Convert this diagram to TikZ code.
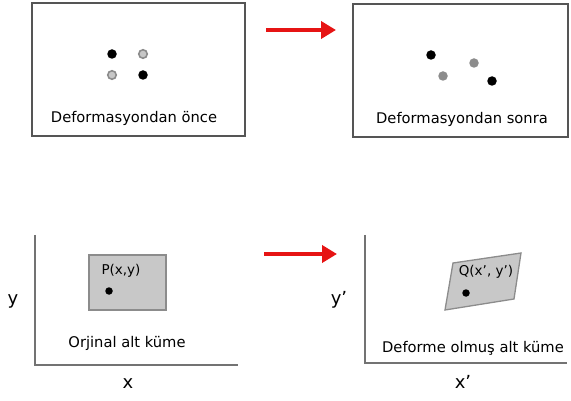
\documentclass[tikz,border=0pt]{standalone}
\usepackage{fontspec}
\setmainfont{DejaVu Sans}
\usetikzlibrary{arrows.meta}
\definecolor{arrowred}{RGB}{230,20,20}
\definecolor{framegray}{RGB}{85,85,85}
\definecolor{axisgray}{RGB}{115,115,115}
\definecolor{subfill}{RGB}{200,200,200}
\definecolor{subedge}{RGB}{140,140,140}
\begin{document}
\begin{tikzpicture}[x=1pt,y=-1pt,
  frame/.style={draw=framegray, line width=1.7pt, inner sep=0pt,
    minimum width=213pt, minimum height=133pt},
  axis/.style={draw=axisgray, line width=1.9pt},
  caption/.style={font=\fontsize{14.7}{17}\selectfont, inner sep=0pt},
  axislabel/.style={font=\fontsize{18}{20}\selectfont, inner sep=0pt},
  pointlabel/.style={font=\fontsize{13.5}{15}\selectfont, inner sep=0pt},
  blackdot/.style={circle, fill=black, inner sep=0pt, minimum size=9.5pt},
  ringdot/.style={circle, fill=black!22, draw=black!45, line width=1.6pt, inner sep=0pt, minimum size=8.5pt},
  greydot/.style={circle, fill=black!45, inner sep=0pt, minimum size=9.5pt},
  smalldot/.style={circle, fill=black, inner sep=0pt, minimum size=7.5pt},
  subset/.style={fill=subfill, draw=subedge, line width=1.3pt},
  redarrow/.style={draw=arrowred, line width=4pt,
    -{Triangle[length=15pt, width=17pt]}}]
\useasboundingbox (0,0) rectangle (571,401);

% ---- before deformation ----
\node[frame] (before) at (138.5,69.5) {};
\node[blackdot] (b1) at (112,54) {};
\node[ringdot]  (b2) at (143,54) {};
\node[ringdot]  (b3) at (112,75) {};
\node[blackdot] (b4) at (143,75) {};
\node[caption] (capbefore) at (134,118) {Deformasyondan önce};

% ---- after deformation ----
\node[frame, minimum width=215pt] (after) at (460.5,70.5) {};
\node[blackdot] (a1) at (431,55) {};
\node[greydot]  (a2) at (474,63) {};
\node[greydot]  (a3) at (443,76) {};
\node[blackdot] (a4) at (492,81) {};
\node[caption] (capafter) at (462,119) {Deformasyondan sonra};

% ---- arrows ----
\coordinate (t1) at (266,30);
\coordinate (t2) at (336,30);
\draw[redarrow] (t1) -- (t2);
\coordinate (u1) at (264,254);
\coordinate (u2) at (337,254);
\draw[redarrow] (u1) -- (u2);

% ---- original subset ----
\coordinate (ytop) at (35,235);
\coordinate (origin) at (35,365);
\coordinate (xend) at (238,365);
\draw[axis] (ytop) -- (origin) -- (xend);
\node[axislabel] (ylab) at (13,301) {y};
\node[axislabel] (xlab) at (128,384) {x};
\node[subset, inner sep=0pt, minimum width=77pt, minimum height=55pt] (sub) at (127.5,282.5) {};
\node[pointlabel] (plab) at (121,271) {P(x,y)};
\node[smalldot] (p) at (109,291) {};
\node[caption] (caporig) at (127,343) {Orjinal alt küme};

% ---- deformed subset ----
\coordinate (ytop2) at (365,235);
\coordinate (origin2) at (365,363);
\coordinate (xend2) at (567,363);
\draw[axis] (ytop2) -- (origin2) -- (xend2);
\node[axislabel] (ylab2) at (339,300) {y’};
\node[axislabel] (xlab2) at (463,382) {x’};
\coordinate (q1) at (453,263);
\coordinate (q2) at (521,253);
\coordinate (q3) at (514,299);
\coordinate (q4) at (445,310);
\draw[subset] (q1) -- (q2) -- (q3) -- (q4) -- cycle;
\node[pointlabel] (qlab) at (486,272) {Q(x’, y’)};
\node[smalldot] (q) at (466,293) {};
\node[caption] (capdef) at (473,348) {Deforme olmuş alt küme};
\end{tikzpicture}
\end{document}
